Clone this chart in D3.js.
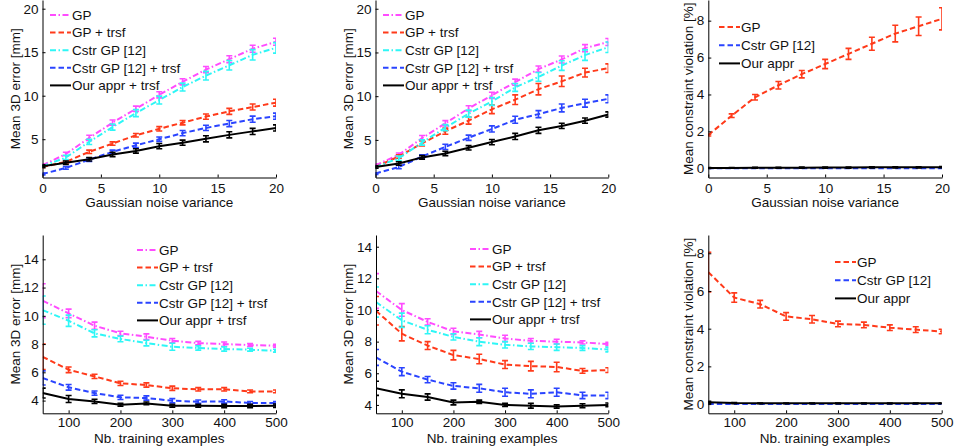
<!DOCTYPE html>
<html><head><meta charset="utf-8">
<script src="https://cdn.jsdelivr.net/npm/d3@7"></script>
<style>body{margin:0;background:#fff}svg{display:block}</style>
</head><body>
<script>
// ---------- DATA ----------
const noiseX = [0,2,4,6,8,10,12,14,16,18,20];
const trainX = [50,100,150,200,250,300,350,400,450,500];
const names5 = ["GP","GP + trsf","Cstr GP [12]","Cstr GP [12] + trsf","Our appr + trsf"];
const names3 = ["GP","Cstr GP [12]","Our appr"];
const xTicksNoise = [0,5,10,15,20];
const xTicksTrain = [100,200,300,400,500];
const yTicksErr = [5,10,15,20];
const yTicksErrB = [4,6,8,10,12,14];
const yTicksViol = [0,2,4,6,8];

// Panel A: noise, dataset 1
const A_gp     = [2.0,3.3,5.15,6.9,8.5,10.1,11.6,13.0,14.2,15.4,16.2];
const A_gpT    = [1.8,2.4,3.55,4.5,5.45,6.2,6.9,7.6,8.2,8.7,9.2];
const A_cstr   = [1.9,2.9,4.7,6.4,8.0,9.5,11.0,12.3,13.5,14.7,15.5];
const A_cstrT  = [1.0,1.7,2.65,3.55,4.3,5.0,5.7,6.3,6.8,7.3,7.65];
const A_our    = [1.9,2.3,2.7,3.25,3.65,4.2,4.6,5.05,5.5,5.9,6.3];
const A_gpE    = [0.15,0.2,0.3,0.3,0.3,0.35,0.35,0.35,0.4,0.4,0.4];
const A_gpTE   = [0.1,0.15,0.2,0.2,0.2,0.25,0.25,0.3,0.35,0.35,0.4];
const A_cstrE  = [0.15,0.25,0.3,0.35,0.4,0.45,0.45,0.5,0.55,0.6,0.6];
const A_cstrTE = [0.1,0.15,0.2,0.2,0.25,0.25,0.3,0.3,0.35,0.35,0.35];
const A_ourE   = [0.15,0.2,0.2,0.25,0.25,0.3,0.3,0.35,0.35,0.35,0.35];

// Panel B: noise, dataset 2
const B_gp     = [2.1,3.3,5.2,6.9,8.6,10.1,11.6,13.1,14.2,15.5,16.2];
const B_gpT    = [1.9,3.1,4.6,6.0,7.2,8.5,9.6,10.8,11.7,12.7,13.2];
const B_cstr   = [1.9,2.9,4.7,6.4,8.0,9.4,11.0,12.2,13.5,14.7,15.6];
const B_cstrT  = [1.15,1.9,3.1,4.2,5.25,6.25,7.3,7.95,8.65,9.2,9.7];
const B_our    = [1.9,2.3,3.0,3.45,4.1,4.75,5.4,6.1,6.6,7.2,7.9];
const B_gpE    = [0.15,0.2,0.3,0.3,0.3,0.35,0.35,0.35,0.4,0.4,0.4];
const B_gpTE   = [0.1,0.2,0.3,0.35,0.4,0.5,0.55,0.65,0.6,0.5,0.5];
const B_cstrE  = [0.15,0.25,0.3,0.35,0.4,0.45,0.45,0.5,0.55,0.6,0.6];
const B_cstrTE = [0.1,0.2,0.2,0.3,0.3,0.35,0.4,0.4,0.45,0.45,0.45];
const B_ourE   = [0.15,0.2,0.2,0.25,0.25,0.3,0.35,0.35,0.3,0.3,0.3];

// Panel C: noise, constraint violation
const C_gp    = [1.8,2.85,3.85,4.5,5.1,5.65,6.2,6.75,7.3,7.7,8.1];
const C_cstr  = [0,0,0,0,0,0,0,0,0,0,0];
const C_our   = [0.02,0.02,0.03,0.03,0.03,0.04,0.04,0.05,0.05,0.05,0.06];
const C_gpE   = [0.05,0.1,0.15,0.2,0.2,0.25,0.3,0.35,0.45,0.5,0.6];
const C_cstrE = [0,0,0,0,0,0,0,0,0,0,0];
const C_ourE  = [0.02,0.02,0.02,0.02,0.03,0.03,0.03,0.03,0.03,0.03,0.03];

// Panel D: training size, dataset 1
const D_gp     = [11.07,10.17,9.3,8.76,8.52,8.24,8.07,8.0,7.93,7.88];
const D_gpT    = [7.1,6.18,5.71,5.22,5.1,4.87,4.8,4.8,4.65,4.65];
const D_cstr   = [10.4,9.65,8.76,8.36,8.07,7.81,7.72,7.65,7.6,7.53];
const D_cstrT  = [5.6,4.94,4.53,4.23,4.18,3.99,3.92,3.94,3.83,3.83];
const D_our    = [4.53,4.11,3.94,3.71,3.8,3.64,3.64,3.62,3.62,3.64];
const D_gpE    = [1.2,0.3,0.25,0.15,0.2,0.15,0.12,0.15,0.1,0.1];
const D_gpTE   = [0.9,0.2,0.15,0.15,0.15,0.15,0.12,0.12,0.1,0.1];
const D_cstrE  = [1.0,0.4,0.25,0.2,0.2,0.25,0.15,0.15,0.1,0.1];
const D_cstrTE = [0.5,0.2,0.15,0.15,0.15,0.15,0.12,0.12,0.1,0.1];
const D_ourE   = [0.35,0.25,0.15,0.1,0.1,0.1,0.1,0.12,0.12,0.12];

// Panel E: training size, dataset 2
const E_gp     = [11.2,10.0,9.25,8.65,8.45,8.2,8.05,8.0,7.95,7.85];
const E_gpT    = [9.95,8.5,7.75,7.15,6.9,6.55,6.45,6.4,6.15,6.2];
const E_cstr   = [10.5,9.35,8.75,8.3,8.0,7.8,7.7,7.65,7.6,7.5];
const E_cstrT  = [7.0,6.1,5.6,5.2,5.05,4.8,4.7,4.8,4.6,4.6];
const E_our    = [5.05,4.7,4.5,4.15,4.2,4.0,3.95,3.9,3.95,4.0];
const E_gpE    = [1.1,0.4,0.2,0.2,0.2,0.2,0.15,0.15,0.1,0.1];
const E_gpTE   = [0.9,0.45,0.25,0.3,0.3,0.25,0.3,0.3,0.15,0.15];
const E_cstrE  = [0.95,0.45,0.25,0.2,0.25,0.2,0.2,0.2,0.15,0.15];
const E_cstrTE = [0.5,0.25,0.2,0.2,0.25,0.25,0.25,0.25,0.2,0.2];
const E_ourE   = [0.45,0.25,0.2,0.15,0.1,0.1,0.15,0.1,0.12,0.12];

// Panel F: training size, constraint violation
const F_gp    = [7.0,5.65,5.3,4.65,4.5,4.25,4.2,4.05,3.95,3.85];
const F_cstr  = [0,0,0,0,0,0,0,0,0,0];
const F_our   = [0.1,0.05,0.04,0.04,0.04,0.04,0.04,0.04,0.04,0.04];
const F_gpE   = [1.05,0.25,0.2,0.2,0.2,0.15,0.15,0.15,0.15,0.12];
const F_cstrE = [0,0,0,0,0,0,0,0,0,0];
const F_ourE  = [0.05,0.03,0.02,0.02,0.02,0.02,0.02,0.02,0.02,0.02];

// ---------- STYLE ----------
const COL = {gp:"#ff4cff", gpT:"#ff3a1a", cstr:"#2ef6f6", cstrT:"#2a44ff", our:"#000000"};
const DASH = {dashdot:"6,2.5,1.5,2.5", dash:"5.5,3", solid:null};
const sty5 = [
  {c:COL.gp, d:DASH.dashdot}, {c:COL.gpT, d:DASH.dash}, {c:COL.cstr, d:DASH.dashdot},
  {c:COL.cstrT, d:DASH.dash}, {c:COL.our, d:DASH.solid}];
const sty3 = [{c:COL.gpT, d:DASH.dash}, {c:COL.cstrT, d:DASH.dash}, {c:COL.our, d:DASH.solid}];

const FONT = "'Liberation Sans', Arial, Helvetica, sans-serif";
const FS = 13.5;
const svg = d3.select("body").append("svg").attr("width",956).attr("height",448)
  .style("font-family",FONT);

const panels = [
  {id:"A", x0:42.5, x1:276, yT:0, yB:177.5, xd:[0,20], yd:[0.6,21.0], xs:noiseX, xt:xTicksNoise, yt:yTicksErr,
   ylab:"Mean 3D error [mm]", xlab:"Gaussian noise variance", ylx:15,
   ser:[A_gp,A_gpT,A_cstr,A_cstrT,A_our], err:[A_gpE,A_gpTE,A_cstrE,A_cstrTE,A_ourE], names:names5, sty:sty5,
   lx:50, ly:15},
  {id:"B", x0:375.5, x1:608.3, yT:0, yB:177.5, xd:[0,20], yd:[0.7,21.0], xs:noiseX, xt:xTicksNoise, yt:yTicksErr,
   ylab:"Mean 3D error [mm]", xlab:"Gaussian noise variance", ylx:348,
   ser:[B_gp,B_gpT,B_cstr,B_cstrT,B_our], err:[B_gpE,B_gpTE,B_cstrE,B_cstrTE,B_ourE], names:names5, sty:sty5,
   lx:383, ly:15},
  {id:"C", x0:708.3, x1:942, yT:0, yB:177.5, xd:[0,20], yd:[-0.5,9.12], xs:noiseX, xt:xTicksNoise, yt:yTicksViol,
   ylab:"Mean constraint violation [%]", xlab:"Gaussian noise variance", ylx:688,
   ser:[C_gp,C_cstr,C_our], err:[C_gpE,C_cstrE,C_ourE], names:names3, sty:sty3,
   lx:719, ly:27},
  {id:"D", x0:42.7, x1:276, yT:235, yB:413.3, xd:[50,500], yd:[3.1,15.72], xs:trainX, xt:xTicksTrain, yt:yTicksErrB,
   ylab:"Mean 3D error [mm]", xlab:"Nb. training examples", ylx:15,
   ser:[D_gp,D_gpT,D_cstr,D_cstrT,D_our], err:[D_gpE,D_gpTE,D_cstrE,D_cstrTE,D_ourE], names:names5, sty:sty5,
   lx:137, ly:250},
  {id:"E", x0:376, x1:608.3, yT:235, yB:413.3, xd:[50,500], yd:[3.47,14.74], xs:trainX, xt:xTicksTrain, yt:yTicksErrB,
   ylab:"Mean 3D error [mm]", xlab:"Nb. training examples", ylx:348,
   ser:[E_gp,E_gpT,E_cstr,E_cstrT,E_our], err:[E_gpE,E_gpTE,E_cstrE,E_cstrTE,E_ourE], names:names5, sty:sty5,
   lx:470, ly:249},
  {id:"F", x0:708.3, x1:941.7, yT:235, yB:413.3, xd:[50,500], yd:[-0.49,8.97], xs:trainX, xt:xTicksTrain, yt:yTicksViol,
   ylab:"Mean constraint violation [%]", xlab:"Nb. training examples", ylx:688,
   ser:[F_gp,F_cstr,F_our], err:[F_gpE,F_cstrE,F_ourE], names:names3, sty:sty3,
   lx:835, ly:262}
];

panels.forEach(p => {
  const x = d3.scaleLinear().domain(p.xd).range([p.x0,p.x1]);
  const y = d3.scaleLinear().domain(p.yd).range([p.yB,p.yT]);
  const g = svg.append("g");
  const clipId = "clip"+p.id;
  svg.append("clipPath").attr("id",clipId).append("rect")
    .attr("x",p.x0).attr("y",p.yT-5).attr("width",p.x1-p.x0).attr("height",p.yB-p.yT+10);
  const plot = g.append("g").attr("clip-path",`url(#${clipId})`);

  p.ser.forEach((vals,i) => {
    const s = p.sty[i];
    const pts = p.xs.map((xv,k)=>({x:xv,y:vals[k],e:p.err[i][k]}));
    plot.append("path").datum(pts)
      .attr("d", d3.line().x(d=>x(d.x)).y(d=>y(d.y)))
      .attr("fill","none").attr("stroke",s.c).attr("stroke-width",2)
      .attr("stroke-dasharray",s.d);
    const eb = plot.append("g").attr("stroke",s.c).attr("stroke-width",1.6).attr("fill","none");
    pts.forEach(d => {
      if (d.e <= 0) return;
      const cx = x(d.x), yt = y(d.y+d.e), yb = y(d.y-d.e);
      eb.append("line").attr("x1",cx).attr("x2",cx).attr("y1",yt).attr("y2",yb);
      eb.append("line").attr("x1",cx-3).attr("x2",cx+3).attr("y1",yt).attr("y2",yt);
      eb.append("line").attr("x1",cx-3).attr("x2",cx+3).attr("y1",yb).attr("y2",yb);
    });
  });

  const top = p.yT===0;
  const ax = g.append("g").attr("transform",`translate(0,${p.yB})`)
    .call(d3.axisBottom(x).tickValues(p.xt).tickSizeInner(-3).tickSizeOuter(0).tickPadding(top?5.5:4.5));
  const ay = g.append("g").attr("transform",`translate(${p.x0},0)`)
    .call(d3.axisLeft(y).tickValues(p.yt).tickSizeInner(-3).tickSizeOuter(0).tickPadding(4));
  [ax,ay].forEach(a => {
    a.selectAll("text").attr("font-size",FS).attr("font-family",FONT).attr("fill","#111");
    a.select(".domain").attr("stroke","#000").attr("stroke-width",1);
    a.selectAll(".tick line").attr("stroke","#000");
  });

  const xlY = top ? 207 : 442.5;
  g.append("text").attr("x",(p.x0+p.x1)/2).attr("y",xlY).attr("text-anchor","middle")
    .attr("font-size",FS).attr("fill","#111").text(p.xlab);
  g.append("text").attr("transform",`translate(${p.ylx},${(p.yT+p.yB)/2}) rotate(-90)`)
    .attr("text-anchor","middle").attr("dy","0.35em").attr("font-size",FS).attr("fill","#111").text(p.ylab);

  const lg = g.append("g");
  const step = p.names.length===5 ? 17.6 : 18.2;
  p.names.forEach((n,i) => {
    const yy = p.ly + i*step;
    lg.append("line").attr("x1",p.lx).attr("x2",p.lx+21).attr("y1",yy).attr("y2",yy)
      .attr("stroke",p.sty[i].c).attr("stroke-width",2).attr("stroke-dasharray",p.sty[i].d);
    lg.append("text").attr("x",p.lx+22).attr("y",yy).attr("dy","0.35em")
      .attr("font-size",FS).attr("fill","#111").text(n);
  });
});
</script>
</body></html>
